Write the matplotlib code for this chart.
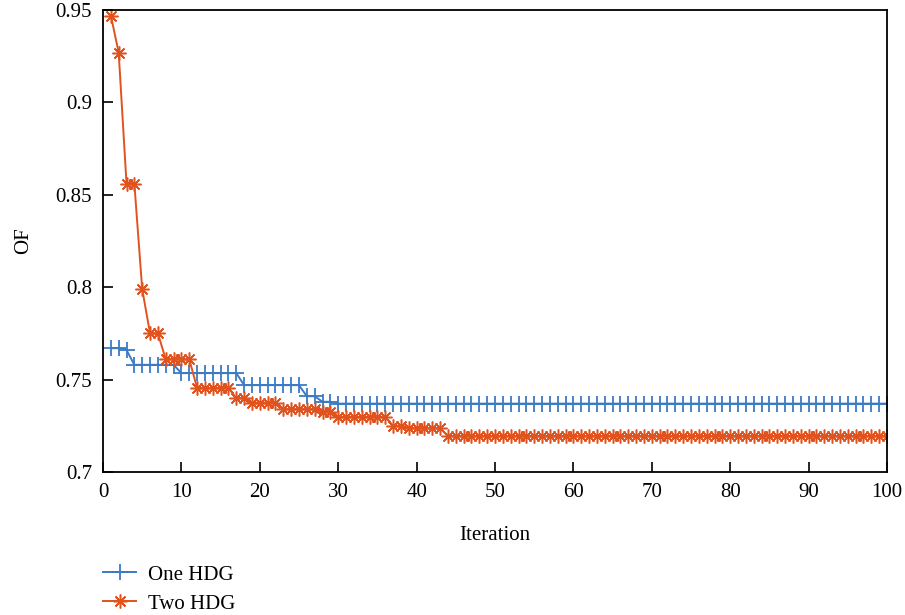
import matplotlib
matplotlib.use("Agg")
import matplotlib.pyplot as plt

iterations = list(range(1, 101))

one_hdg = [
    0.767, 0.767, 0.766, 0.758, 0.758, 0.758, 0.758, 0.758, 0.758, 0.7535,
    0.7535, 0.7535, 0.7535, 0.7535, 0.7535, 0.7535, 0.7535, 0.747, 0.747, 0.747,
    0.747, 0.747, 0.747, 0.747, 0.747, 0.741, 0.741, 0.738, 0.738, 0.737,
    0.737, 0.737, 0.737, 0.737, 0.737, 0.737, 0.737, 0.737, 0.737, 0.737,
    0.737, 0.737, 0.737, 0.737, 0.737, 0.737, 0.737, 0.737, 0.737, 0.737,
    0.737, 0.737, 0.737, 0.737, 0.737, 0.737, 0.737, 0.737, 0.737, 0.737,
    0.737, 0.737, 0.737, 0.737, 0.737, 0.737, 0.737, 0.737, 0.737, 0.737,
    0.737, 0.737, 0.737, 0.737, 0.737, 0.737, 0.737, 0.737, 0.737, 0.737,
    0.737, 0.737, 0.737, 0.737, 0.737, 0.737, 0.737, 0.737, 0.737, 0.737,
    0.737, 0.737, 0.737, 0.737, 0.737, 0.737, 0.737, 0.737, 0.737, 0.737,
]

two_hdg = [
    0.947, 0.927, 0.856, 0.856, 0.799, 0.775, 0.775, 0.761, 0.761, 0.761,
    0.761, 0.7455, 0.7455, 0.7455, 0.7455, 0.7455, 0.740, 0.740, 0.7375, 0.7375,
    0.7375, 0.7375, 0.734, 0.734, 0.734, 0.734, 0.734, 0.7325, 0.7325, 0.7298,
    0.7298, 0.7298, 0.7298, 0.7298, 0.7298, 0.7298, 0.725, 0.725, 0.7237, 0.7237,
    0.7237, 0.7237, 0.7237, 0.7195, 0.7195, 0.7195, 0.7195, 0.7195, 0.7195, 0.7195,
    0.7195, 0.7195, 0.7195, 0.7195, 0.7195, 0.7195, 0.7195, 0.7195, 0.7195, 0.7195,
    0.7195, 0.7195, 0.7195, 0.7195, 0.7195, 0.7195, 0.7195, 0.7195, 0.7195, 0.7195,
    0.7195, 0.7195, 0.7195, 0.7195, 0.7195, 0.7195, 0.7195, 0.7195, 0.7195, 0.7195,
    0.7195, 0.7195, 0.7195, 0.7195, 0.7195, 0.7195, 0.7195, 0.7195, 0.7195, 0.7195,
    0.7195, 0.7195, 0.7195, 0.7195, 0.7195, 0.7195, 0.7195, 0.7195, 0.7195, 0.7195,
]

series_labels = ["One HDG", "Two HDG"]
x_ticks = [0, 10, 20, 30, 40, 50, 60, 70, 80, 90, 100]
y_ticks = [0.7, 0.75, 0.8, 0.85, 0.9, 0.95]
y_tick_labels = ["0.7", "0.75", "0.8", "0.85", "0.9", "0.95"]

plt.rcParams["font.family"] = ["Liberation Serif", "DejaVu Serif"]

W, H = 905, 615
fig = plt.figure(figsize=(W / 100, H / 100), dpi=100)
ax = fig.add_axes([103 / W, 1 - 472 / H, 784 / W, 462 / H])

blue = "#3b7bc4"
red = "#e0531f"

ax.plot(iterations, one_hdg, color=blue, lw=1.4, marker="+", ms=11, mew=1.3,
        label=series_labels[0])
ax.plot(iterations, two_hdg, color=red, lw=1.4, marker=(8, 2, 0), ms=10, mew=1.1,
        label=series_labels[1])

ax.set_xlim(0, 100)
ax.set_ylim(0.7, 0.95)
ax.set_xticks(x_ticks)
ax.set_yticks(y_ticks)
ax.set_yticklabels(y_tick_labels)
ax.tick_params(direction="in", length=7, width=1.2, labelsize=15)
ax.tick_params(axis="x", pad=8)
ax.tick_params(axis="y", pad=8)
for s in ax.spines.values():
    s.set_linewidth(1.3)
    s.set_color("black")

ax.set_xlabel("Iteration", fontsize=15, labelpad=17)
ax.set_ylabel("OF", fontsize=15, labelpad=16)

fig.legend(loc="upper left", bbox_to_anchor=(103 / W, 1 - 565 / H), frameon=False,
           fontsize=15, handlelength=1.6, handletextpad=0.55, labelspacing=0.45,
           borderaxespad=0, borderpad=0)

fig.savefig("out.png", dpi=100)
